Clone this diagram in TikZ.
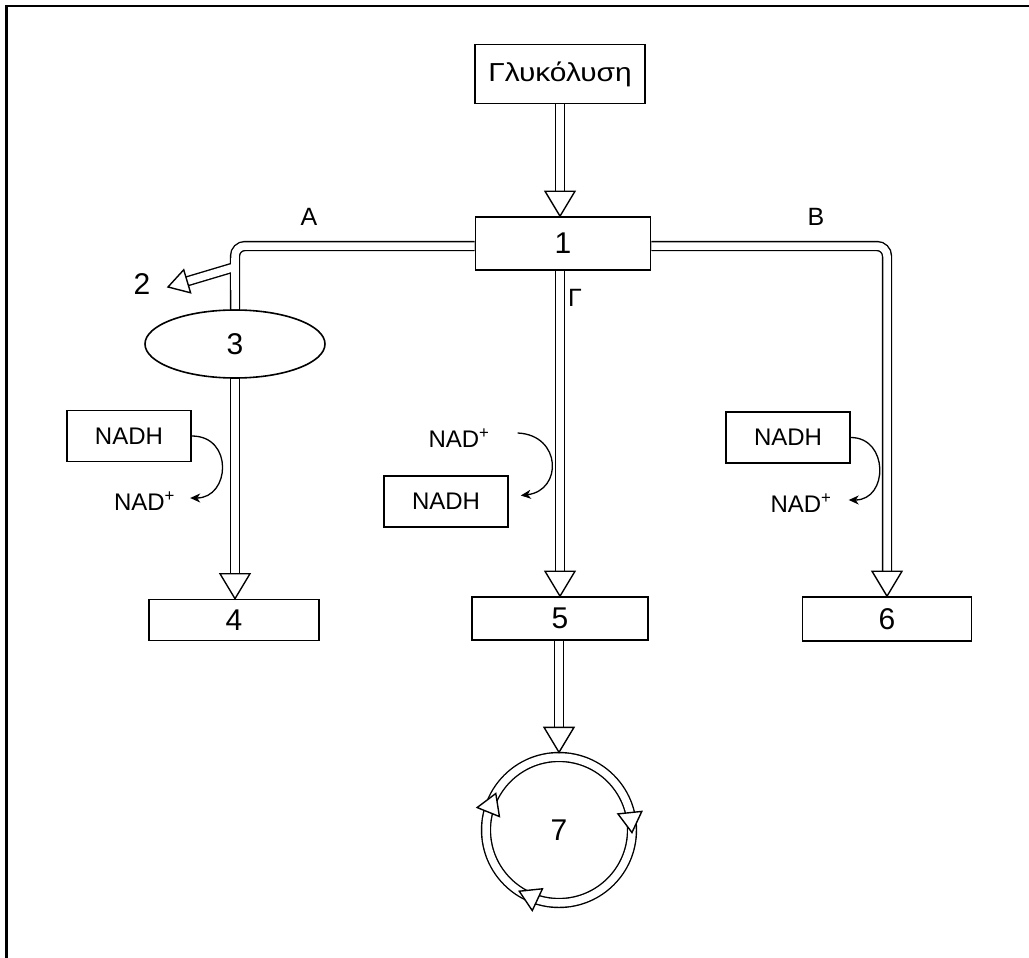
\documentclass[tikz,border=0pt]{standalone}
\usepackage{fontspec}
\setmainfont{Liberation Sans}
\newfontfamily\widefont[FakeStretch=1.15]{Liberation Sans}
\usetikzlibrary{arrows.meta,shapes.geometric,calc}
\newcommand{\numfont}{\fontsize{30}{30}\selectfont}
\newcommand{\nadfont}{\fontsize{24}{24}\selectfont}
% hollow arrow head: tip, point behind it, length, half width
\newcommand{\hollowhead}[4]{\draw[headline] (#1) -- ($(#1)!#3!(#2)!#4!90:(#1)$) -- ($(#1)!#3!(#2)!#4!-90:(#1)$) -- cycle;}
\tikzset{
  box/.style={draw, line width=1.6pt, minimum width=124, minimum height=51, inner sep=0pt, font=\nadfont},
  pipe/.style={draw=black, line width=1.4pt, double=white, double distance=7.5pt},
  headline/.style={line width=1.4pt, fill=white, line join=miter},
  curvy/.style={line width=1.3pt, -{Stealth[length=10pt,width=9pt,inset=3pt]}},
  lab/.style={inner sep=0pt},
}
\begin{document}
\begin{tikzpicture}[x=1pt, y=-1pt]
\useasboundingbox (0,0) rectangle (1029,958);
\draw[line width=2.5pt] (6.5,958) -- (6.5,6) -- (1029,6);

% nodes
\node[box, minimum width=170, minimum height=59, font=\widefont\fontsize{26}{26}\selectfont] (g) at (560,74) {Γλυκόλυση};
\node[box, minimum width=175, minimum height=53, font=\numfont] (one) at (563,243.5) {1};
\node[draw, ellipse, line width=1.6pt, minimum width=180, minimum height=68, inner sep=0pt, font=\numfont] (three) at (235,344) {3};
\node[box, minimum width=170, minimum height=41, font=\numfont] (four) at (234,620) {4};
\node[box, minimum width=176, minimum height=43, font=\numfont] (five) at (560,618.5) {5};
\node[box, minimum width=169, minimum height=44, font=\numfont] (six) at (887,619) {6};
\node[pipe, circle, minimum size=146, inner sep=0pt, font=\numfont] (seven) at (559,830) {7};

\node[box] (nl) at (129,436) {NADH};
\node[box] (nm) at (446,501.5) {NADH};
\node[box] (nr) at (788,437.5) {NADH};
\node[lab, font=\nadfont] (pl) at (144.5,501) {NAD\textsuperscript{+}};
\node[lab, font=\nadfont] (pm) at (459,438) {NAD\textsuperscript{+}};
\node[lab, font=\nadfont] (pr) at (801,503) {NAD\textsuperscript{+}};
\coordinate (two) at (168,287);

% glycolysis -> 1
\draw[pipe] (g.south) -- ($(g.south |- one.north)+(0,-18)$);
\hollowhead{g.south |- one.north}{g.south}{25pt}{15pt}

% A branch
\draw[pipe, rounded corners=10pt] ([yshift=-2.5pt]one.west) -| (three.north);
\draw[pipe] (235,267) -- ($(two)!14pt!(235,267)$);
\draw[white, line width=7.5pt] (235,258) -- (235,290);
\hollowhead{two}{235,267}{20pt}{12pt}

% B branch
\draw[pipe, rounded corners=10pt] ([yshift=-2.5pt]one.east) -| ($(six.north)+(0,-18)$);
\hollowhead{six.north}{six.center |- one.south}{25pt}{15pt}

% Gamma branch
\draw[pipe] (five.north |- one.south) -- ($(five.north)+(0,-18)$);
\hollowhead{five.north}{five.north |- one.south}{25pt}{15pt}

% 3 -> 4
\draw[pipe] (three.south) -- ($(three.south |- four.north)+(0,-18)$);
\hollowhead{three.south |- four.north}{three.south}{25pt}{15pt}

% 5 -> 7
\draw[pipe] (seven.north |- five.south) -- ($(seven.north)+(0,-22)$);
\hollowhead{$(seven.north)+(0,-4)$}{seven.north |- five.south}{25pt}{15pt}

% cycle arrowheads (clockwise flow)
\hollowhead{$(seven.center)+(2:73)$}{$(seven.center)+(-14:73)$}{20pt}{12pt}
\hollowhead{$(seven.center)+(-237:73)$}{$(seven.center)+(-253:73)$}{20pt}{12pt}
\hollowhead{$(seven.center)+(-150:73)$}{$(seven.center)+(-166:73)$}{20pt}{12pt}

% labels
\node[lab, font=\fontsize{25}{25}\selectfont] (la) at (309,217) {Α};
\node[lab, font=\fontsize{25}{25}\selectfont] (lb) at (816,217) {Β};
\node[lab, font=\fontsize{25}{25}\selectfont] (lg) at (575,298) {Γ};
\node[lab, font=\numfont] (l2) at (142,284) {2};

% NADH / NAD+ curved arrows
\draw[curvy] (nl.east) .. controls +(42,0) and +(40,0) .. ([xshift=15pt,yshift=3pt]pl.east);
\draw[curvy] ([xshift=28pt,yshift=5pt]pm.east) .. controls +(44,2) and +(42,-5) .. ([xshift=12pt,yshift=6pt]nm.east);
\draw[curvy] (nr.east) .. controls +(38,0) and +(40,0) .. ([xshift=17pt,yshift=3pt]pr.east);
\end{tikzpicture}
\end{document}
